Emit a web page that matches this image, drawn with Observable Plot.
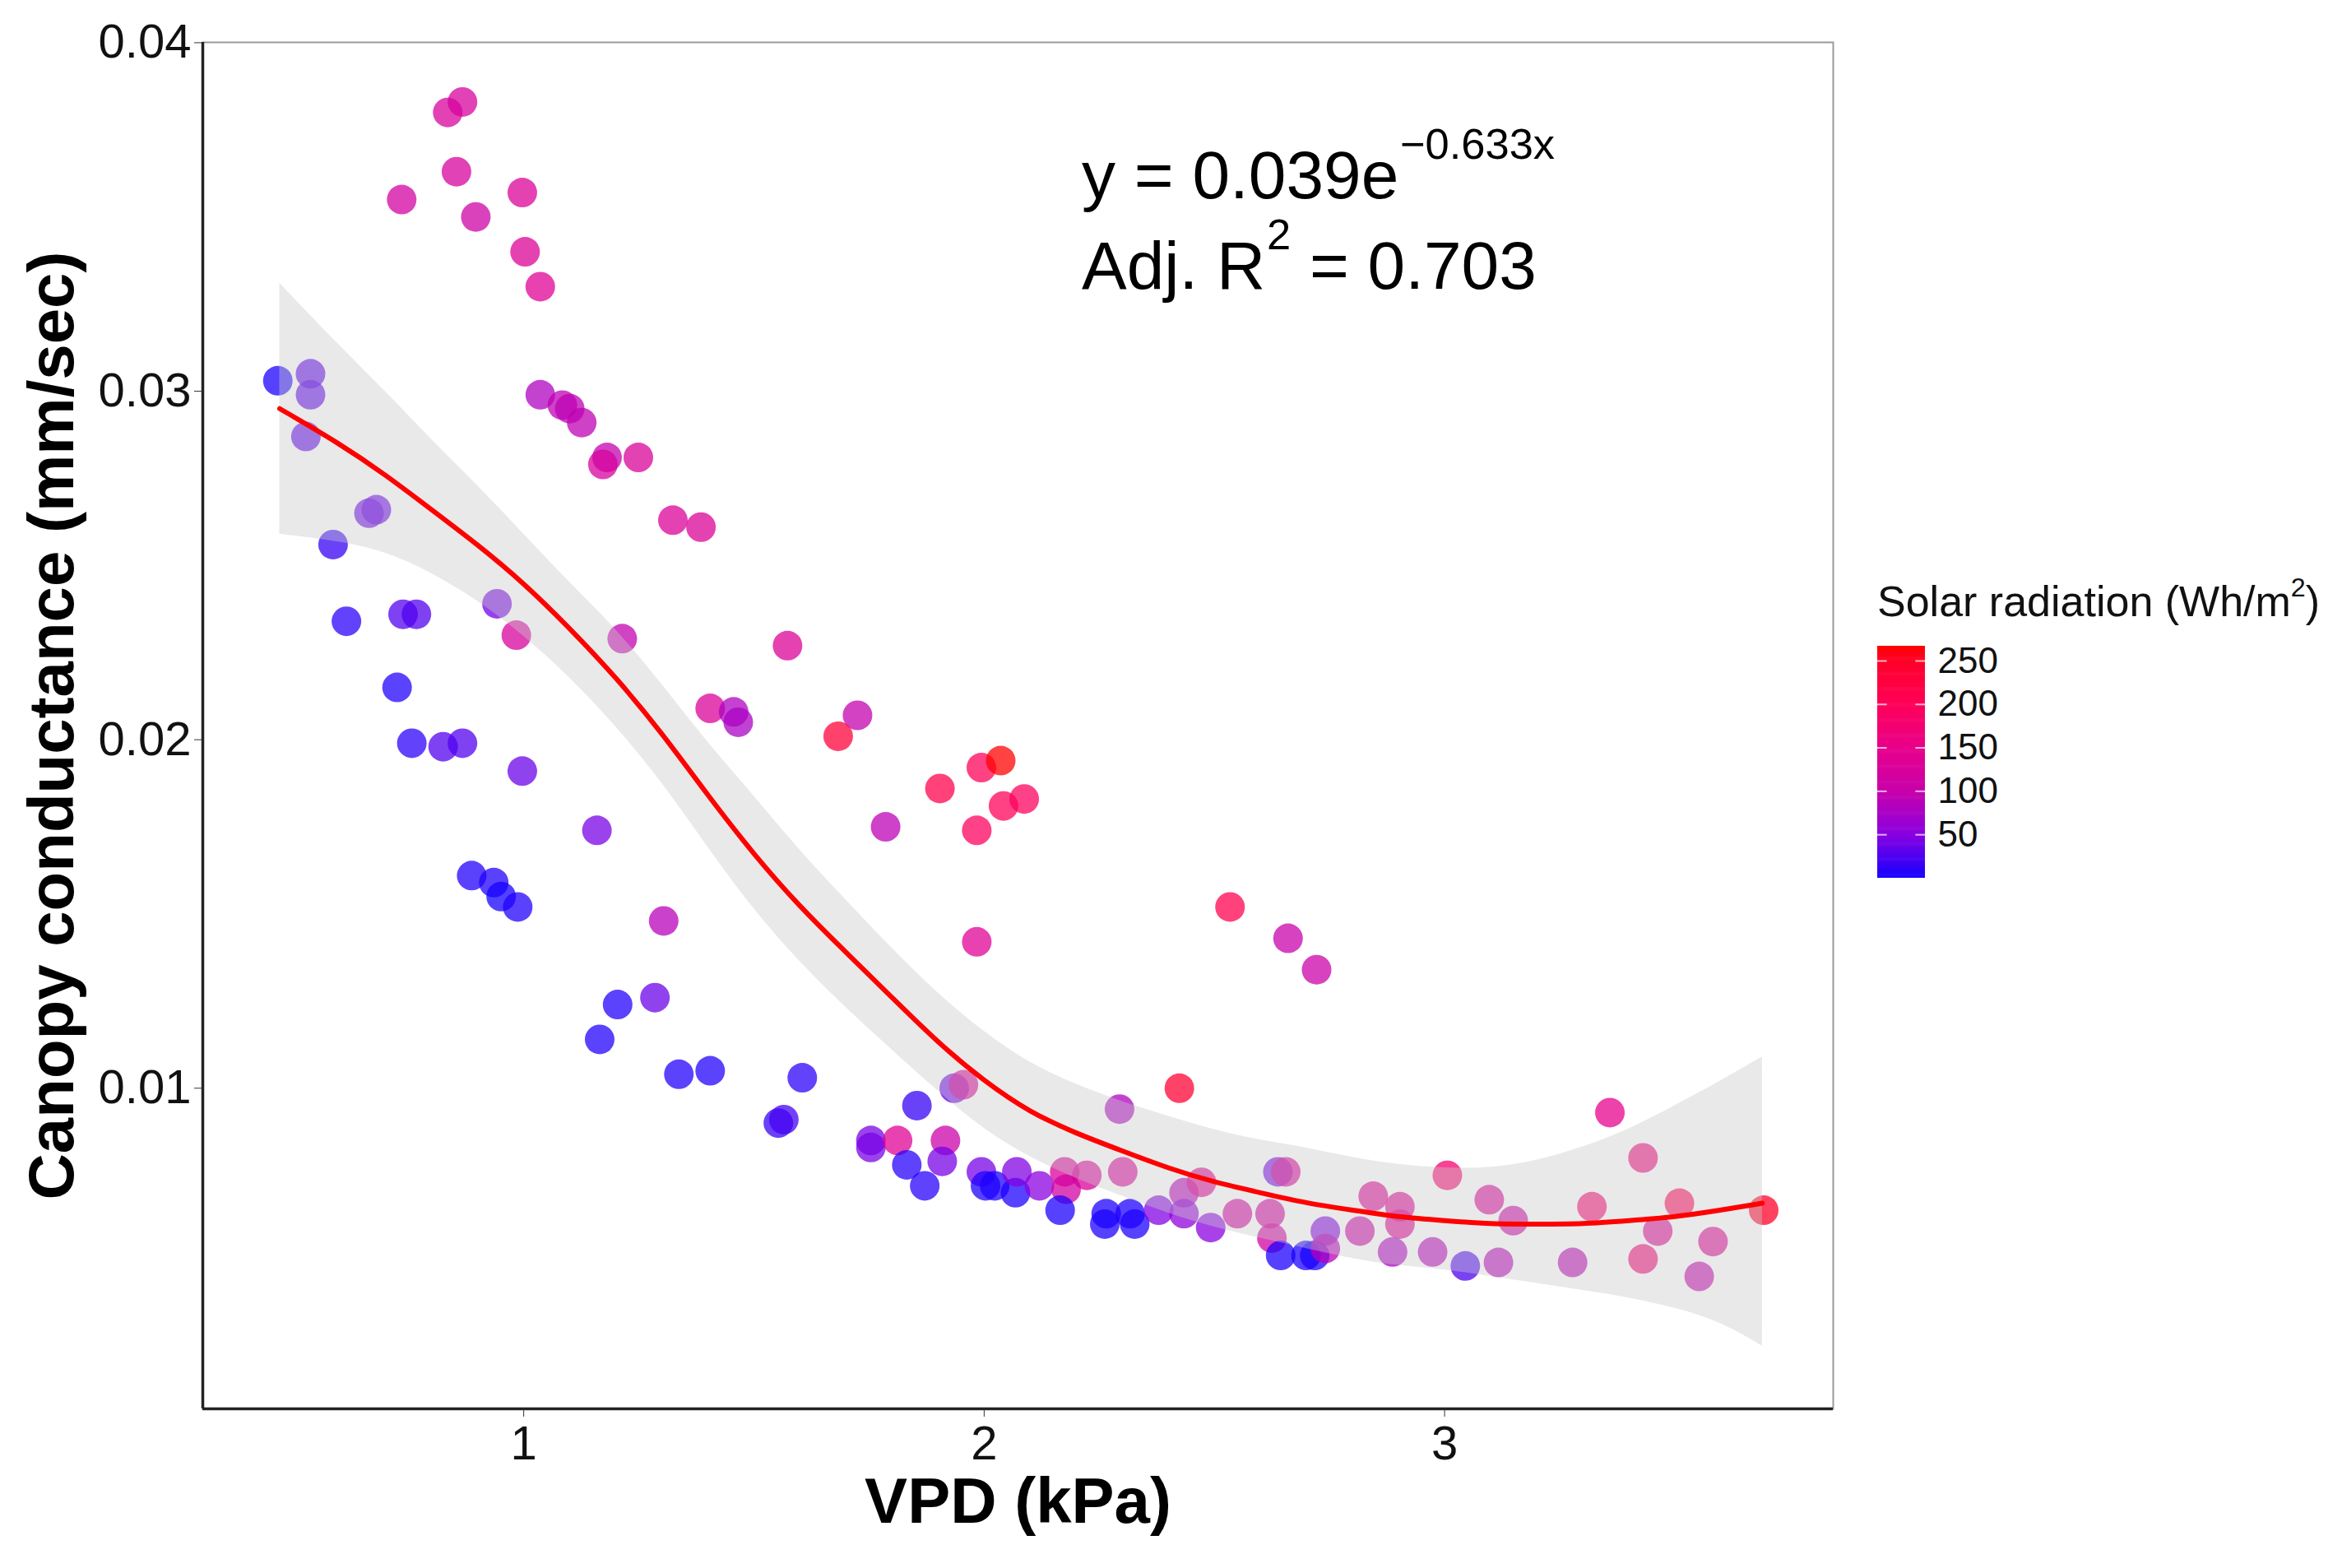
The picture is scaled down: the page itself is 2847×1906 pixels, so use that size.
<!DOCTYPE html>
<html>
<head>
<meta charset="utf-8">
<script src="https://cdn.jsdelivr.net/npm/d3@7"></script>
<script src="https://cdn.jsdelivr.net/npm/@observablehq/plot@0.6"></script>
<style>
  html, body { margin: 0; padding: 0; background: white; }
  #wrap { position: relative; width: 2847px; height: 1906px; overflow: hidden; background: white; }
  #legend-title { position: absolute; left: 2282px; top: 702px; font-family: "Liberation Sans", Arial, sans-serif; font-size: 52px; line-height: 1.15; color: #111; white-space: nowrap; }
  #legend-title sup { font-size: 0.62em; vertical-align: 0; position: relative; top: -0.75em; }
  #legend { position: absolute; left: 2250px; top: 690px; }
</style>
</head>
<body>
<div id="wrap">
  <div id="chart"></div>
  <div id="legend-title">Solar radiation (Wh/m<sup>2</sup>)</div>
  <div id="legend"></div>
</div>
<script>
// ---------------- data ----------------
const vpd = [
  0.835, 0.867, 0.854, 0.735, 0.896, 0.997, 1.003, 1.036,
  1.036, 1.084, 1.100, 1.126, 1.181, 1.172, 1.249, 1.324, 1.385, 1.573,
  1.405, 1.456, 1.466, 1.725, 1.683, 1.786, 1.904, 1.994, 2.036, 2.042,
  2.087, 1.984, 1.984, 2.534, 2.660, 2.722,
  0.466, 0.537, 0.537, 0.527, 0.664, 0.680, 0.586, 0.615, 0.738, 0.767,
  0.942, 0.984, 1.214, 0.725, 0.757, 0.825, 0.867, 0.997, 1.159, 0.887,
  0.935, 0.951, 0.987, 1.304, 1.204, 1.285, 1.165, 1.337, 1.405, 1.605,
  1.553, 1.565, 1.854, 1.935, 1.955, 2.294, 2.424,
  1.754, 1.754, 1.812, 1.832, 1.871, 1.916, 1.909, 1.994, 2.003, 2.023,
  2.068, 2.071, 2.120, 2.175, 2.223, 2.178, 2.165, 2.301, 2.265, 2.262,
  2.317, 2.327, 2.379, 2.434, 2.434, 2.472, 2.492, 2.550, 2.621, 2.625,
  2.638, 2.655, 2.644, 2.699, 2.718, 2.741, 2.741,
  2.816, 2.845, 2.903, 2.903, 2.887, 3.006, 2.974, 3.045, 3.097, 3.149,
  3.117, 3.278, 3.320, 3.359, 3.431, 3.463, 3.431, 3.510, 3.583, 3.553,
  3.693
];
const conductance = [
  0.0380, 0.0383, 0.0363, 0.0355, 0.0350, 0.0357, 0.0340, 0.0330,
  0.0299, 0.0296, 0.0295, 0.0291, 0.0281, 0.0279, 0.0281, 0.0263, 0.0261, 0.0227,
  0.0209, 0.0208, 0.0205, 0.0207, 0.0201, 0.0175, 0.0186, 0.0192, 0.0194, 0.0181,
  0.0183, 0.0174, 0.0142, 0.0152, 0.0143, 0.0134,
  0.0303, 0.0305, 0.0299, 0.0287, 0.0265, 0.0266, 0.0256, 0.0234, 0.0236, 0.0236,
  0.0239, 0.0230, 0.0229, 0.0215, 0.0199, 0.0198, 0.0199, 0.0191, 0.0174, 0.0161,
  0.0159, 0.0155, 0.0152, 0.0148, 0.0124, 0.0126, 0.0114, 0.0104, 0.0105, 0.0103,
  0.0090, 0.0091, 0.0095, 0.0100, 0.0101, 0.0094, 0.0100,
  0.0085, 0.0083, 0.0085, 0.0078, 0.0072, 0.0085, 0.0079, 0.0076, 0.0072, 0.0072,
  0.0070, 0.0076, 0.0072, 0.0076, 0.0075, 0.0071, 0.0065, 0.0076, 0.0064, 0.0061,
  0.0064, 0.0061, 0.0065, 0.0070, 0.0064, 0.0073, 0.0060, 0.0064, 0.0064, 0.0057,
  0.0076, 0.0076, 0.0052, 0.0052, 0.0052, 0.0059, 0.0054,
  0.0059, 0.0069, 0.0066, 0.0061, 0.0053, 0.0075, 0.0053, 0.0049, 0.0068, 0.0062,
  0.0050, 0.0050, 0.0066, 0.0093, 0.0080, 0.0059, 0.0051, 0.0067, 0.0056, 0.0046,
  0.0065
];
const solar = [
  125, 122, 122, 115, 108, 132, 132, 135,
  80, 92, 92, 92, 96, 122, 126, 128, 132, 132,
  128, 80, 76, 96, 232, 90, 215, 200, 267, 200,
  195, 195, 134, 210, 100, 104,
  3, 30, 30, 30, 36, 36, 14, 10, 26, 26,
  40, 124, 95, 6, 10, 26, 26, 36, 42, 5,
  5, 0, 5, 86, 6, 36, 6, 6, 6, 10,
  14, 20, 14, 36, 128, 80, 240,
  42, 42, 134, 8, 8, 104, 42, 42, 4, 4,
  4, 46, 50, 126, 126, 116, 3, 126, 3, 3,
  4, 4, 46, 86, 56, 136, 50, 116, 116, 116,
  40, 126, 3, 3, 3, 46, 86,
  106, 136, 136, 136, 80, 178, 86, 24, 126, 106,
  86, 90, 178, 148, 168, 136, 172, 202, 136, 96,
  250
];

// fitted smooth curve and its confidence band
const smoothVpd  = [0.47, 0.6, 0.7, 0.8, 0.9, 1.0, 1.1, 1.2, 1.3, 1.4, 1.5, 1.6, 1.7, 1.8, 1.9, 2.0, 2.1, 2.2, 2.3, 2.4, 2.5, 2.6, 2.7, 2.8, 2.9, 3.0, 3.1, 3.2, 3.3, 3.4, 3.5, 3.6, 3.69];
const smoothFit  = [0.0295, 0.0285, 0.0276, 0.0266, 0.0256, 0.0245, 0.0232, 0.0218, 0.0202, 0.0184, 0.0167, 0.0152, 0.0139, 0.0126, 0.0113, 0.0102, 0.0093, 0.0087, 0.0082, 0.0077, 0.0073, 0.0070, 0.0067, 0.0065, 0.0063, 0.0062, 0.0061, 0.0061, 0.0061, 0.0062, 0.0063, 0.0065, 0.0067];
const smoothHigh = [0.0331, 0.0313, 0.0300, 0.0286, 0.0273, 0.0259, 0.0245, 0.0232, 0.0216, 0.0199, 0.0184, 0.0168, 0.0154, 0.0140, 0.0127, 0.0116, 0.0107, 0.0101, 0.0096, 0.0092, 0.0088, 0.0085, 0.0083, 0.0080, 0.0078, 0.0077, 0.0077, 0.0079, 0.0083, 0.0088, 0.0095, 0.0102, 0.0109];
const smoothLow  = [0.0259, 0.0257, 0.0254, 0.0248, 0.0240, 0.0230, 0.0218, 0.0204, 0.0188, 0.0169, 0.0151, 0.0136, 0.0123, 0.0111, 0.0099, 0.0088, 0.0080, 0.0074, 0.0069, 0.0064, 0.0060, 0.0057, 0.0054, 0.0051, 0.0049, 0.0048, 0.0046, 0.0044, 0.0042, 0.0040, 0.0037, 0.0033, 0.0026];

// axes
const xDomain = [0.303, 3.844];
const yDomain = [0.0008, 0.04001];
const xTicks = [1, 2, 3];
const yTicks = [0.01, 0.02, 0.03, 0.04];
const legendTicks = [50, 100, 150, 200, 250];
// colour bar stops (values and colours)
const colorStops  = [0, 50, 100, 150, 200, 250, 267];
const colorValues = ["#1400ff", "#8a00e0", "#c800aa", "#e8008a", "#ff0058", "#ff0028", "#ff0000"];

// annotation
const eqLines = ["y = 0.039e^{\u22120.633x}", "Adj. R^{2} = 0.703"];
const eqX = 2.212;
const eqY = [0.03554, 0.03294];

// ---------------- build ----------------
const points = vpd.map((x, i) => ({x, y: conductance[i], s: solar[i]}));
const smooth = smoothVpd.map((x, i) => ({x, fit: smoothFit[i], lo: smoothLow[i], hi: smoothHigh[i]}));
const colorDomain = [colorStops[0], colorStops[colorStops.length - 1]];

const FONT = '"Liberation Sans", Arial, Helvetica, sans-serif';
const colorOpts = {type: "linear", domain: colorStops, range: colorValues, interpolate: "rgb"};
const EQ_FS = 82;

const W = 2847, H = 1906;
const chart = Plot.plot({
  width: W, height: H,
  marginLeft: 246, marginRight: W - 2228, marginTop: 51, marginBottom: H - 1712,
  x: {domain: xDomain},
  y: {domain: yDomain},
  color: colorOpts,
  style: {fontFamily: FONT, fontSize: "58px", color: "#111", background: "white", overflow: "visible"},
  marks: [
    Plot.dot(points, {x: "x", y: "y", fill: "s", r: 18, fillOpacity: 0.74, stroke: null}),
    Plot.areaY(smooth, {x: "x", y1: "lo", y2: "hi", fill: "#c8c8c8", fillOpacity: 0.4, curve: "basis"}),
    Plot.line(smooth, {x: "x", y: "fit", stroke: "red", strokeWidth: 6, curve: "basis"}),
    Plot.frame({stroke: "#9a9a9a", strokeWidth: 2}),
    Plot.ruleX([xDomain[0]], {stroke: "#222", strokeWidth: 3.5}),
    Plot.ruleY([yDomain[0]], {stroke: "#222", strokeWidth: 3.5}),
    Plot.axisX({ticks: xTicks, tickSize: 10, tickPadding: 10, fontSize: 58, label: null, stroke: "#333", tickFormat: d3.format("d")}),
    Plot.axisY({ticks: yTicks, tickSize: 10, tickPadding: 4, fontSize: 58, label: null, stroke: "#333", tickFormat: d3.format(".2f")}),
    Plot.text(["VPD (kPa)"], {frameAnchor: "bottom", lineAnchor: "bottom", dy: 138, fontSize: 78, fontWeight: "bold", fill: "#000"}),
    Plot.text(["Canopy conductance (mm/sec)"], {frameAnchor: "left", textAnchor: "middle", lineAnchor: "bottom", rotate: -90, dx: -158, fontSize: 78, fontWeight: "bold", fill: "#000"}),
    Plot.text(eqLines, {x: eqX, y: (d, i) => eqY[i], text: d => d, textAnchor: "start", lineAnchor: "bottom", fontSize: EQ_FS, fill: "#000"})
  ]
});

// superscripts: turn "^{...}" into raised tspans
function applySuperscripts(svg) {
  svg.querySelectorAll("text").forEach(t => {
    const s = t.textContent;
    if (!s.includes("^{")) return;
    const fs = EQ_FS;
    const parts = s.split(/(\^\{[^}]*\})/);
    while (t.firstChild) t.removeChild(t.firstChild);
    let raised = 0;
    for (const p of parts) {
      if (!p) continue;
      const ts = document.createElementNS("http://www.w3.org/2000/svg", "tspan");
      if (p.startsWith("^{")) {
        ts.textContent = p.slice(2, -1);
        ts.setAttribute("font-size", fs * 0.64);
        ts.setAttribute("dy", -fs * 0.58);
        ts.setAttribute("dx", fs * 0.02);
        raised = fs * 0.58;
      } else {
        ts.textContent = p;
        if (raised) { ts.setAttribute("dy", raised); raised = 0; }
      }
      t.appendChild(ts);
    }
  });
}
applySuperscripts(chart);
document.getElementById("chart").appendChild(chart);

// colour bar legend
const bands = d3.range(colorDomain[0], colorDomain[1], 1);
const LW = 597, LH = 400;
const legend = Plot.plot({
  width: LW, height: LH,
  marginLeft: 32, marginRight: LW - 90, marginTop: 95, marginBottom: LH - 377,
  x: {domain: [0, 1], axis: null},
  y: {domain: colorDomain, axis: null},
  color: colorOpts,
  style: {fontFamily: FONT, fontSize: "44px", color: "#111", background: "transparent", overflow: "visible"},
  marks: [
    Plot.rect(bands, {x1: 0, x2: 1, y1: d => d, y2: d => Math.min(d + 1.6, colorDomain[1]), fill: d => d + 0.5}),
    Plot.ruleY(legendTicks, {x1: 0, x2: 0.2, stroke: "white", strokeWidth: 2, strokeOpacity: 0.7}),
    Plot.ruleY(legendTicks, {x1: 0.8, x2: 1, stroke: "white", strokeWidth: 2, strokeOpacity: 0.7}),
    Plot.axisY({anchor: "right", ticks: legendTicks, tickSize: 0, tickPadding: 15, fontSize: 44, label: null, tickFormat: d3.format("d")})
  ]
});
document.getElementById("legend").appendChild(legend);
</script>
</body>
</html>
